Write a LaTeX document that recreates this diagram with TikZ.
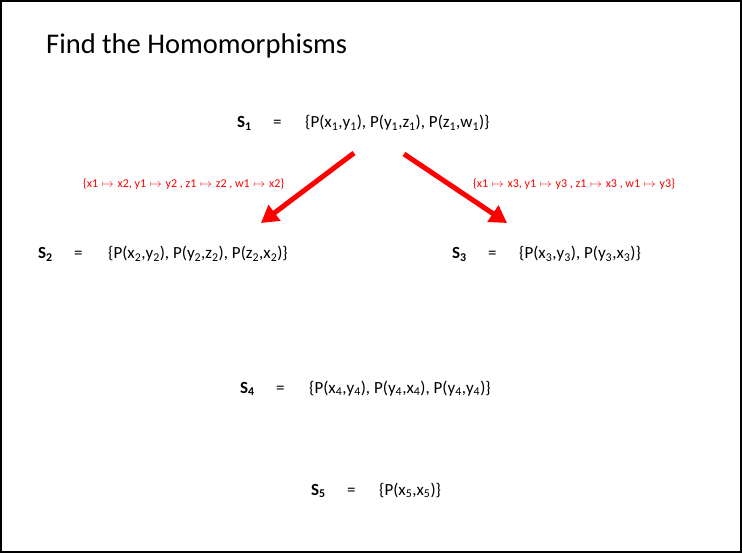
\documentclass[tikz,border=0pt]{standalone}
\usepackage{fontspec}
\setmainfont{Carlito}
\usetikzlibrary{arrows.meta}
\newcommand{\sx}[1]{\textsubscript{#1}}
\newcommand{\mto}{\hspace{1pt}$\mapsto$\hspace{1pt}}
\begin{document}
\begin{tikzpicture}[x=1pt,y=-1pt,every node/.style={anchor=base west,inner sep=0pt,font=\fontsize{17}{20}\selectfont},
  maparrow/.style={red,line width=5pt,-{Triangle[length=17pt,width=19pt]}},
  maplabel/.style={text=red,font=\fontsize{12}{14}\selectfont}]
\useasboundingbox (0,0) rectangle (742,553);
\draw[line width=2pt] (1,1) rectangle (741,552);
\node[font=\fontsize{28.5}{32}\selectfont] (title) at (46,54) {Find the Homomorphisms};
% names and equals signs
\foreach \n/\x/\y in {1/237/128,2/38/259,3/452/259,4/240/393,5/311/495} {\node (s\n) at (\x,\y) {\textbf{S\sx{\n}}};\node (eq\n) at (\x+36,\y) {=};}
% the sets
\node (set1) at (305,128) {\{P(x\sx{1},y\sx{1}), P(y\sx{1},z\sx{1}), P(z\sx{1},w\sx{1})\}};
\node (set2) at (108,259) {\{P(x\sx{2},y\sx{2}), P(y\sx{2},z\sx{2}), P(z\sx{2},x\sx{2})\}};
\node (set3) at (519,259) {\{P(x\sx{3},y\sx{3}), P(y\sx{3},x\sx{3})\}};
\node (set4) at (309,393) {\{P(x\sx{4},y\sx{4}), P(y\sx{4},x\sx{4}), P(y\sx{4},y\sx{4})\}};
\node (set5) at (379,495) {\{P(x\sx{5},x\sx{5})\}};
% maps
\coordinate (m12a) at (354,153); \coordinate (m12b) at (261,223);
\coordinate (m13a) at (404,154); \coordinate (m13b) at (507,223);
\draw[maparrow] (m12a) -- (m12b);
\draw[maparrow] (m13a) -- (m13b);
\node[maplabel] (lab12) at (83,188) {\{x1 \mto{} x2, y1 \mto{} y2 , z1 \mto{} z2 , w1 \mto{} x2\}};
\node[maplabel] (lab13) at (473,188) {\{x1 \mto{} x3, y1 \mto{} y3 , z1 \mto{} x3 , w1 \mto{} y3\}};
\end{tikzpicture}
\end{document}
